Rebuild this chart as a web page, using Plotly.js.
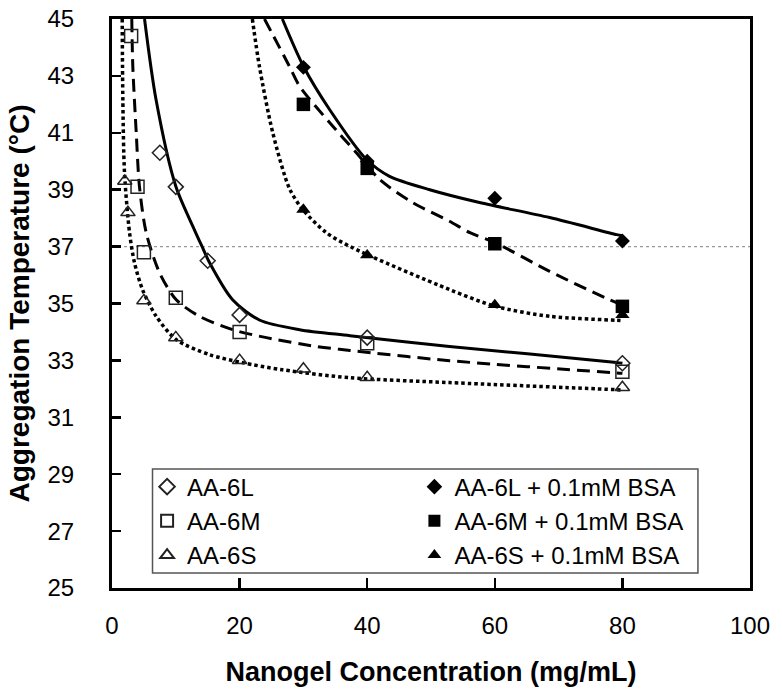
<!DOCTYPE html>
<html>
<head>
<meta charset="utf-8">
<script src="https://cdn.plot.ly/plotly-3.0.1.min.js"></script>
<style>html,body{margin:0;padding:0;background:#fff;}#chart{width:782px;height:695px;}</style>
</head>
<body>
<div id="chart"></div>
<script>
// ---- measured data points ----
const xL = [7.5, 10, 15, 20, 40, 80];
const yL = [40.3, 39.1, 36.5, 34.6, 33.8, 32.9];
const xM = [3, 4, 5, 10, 20, 40, 80];
const yM = [44.4, 39.1, 36.8, 35.2, 34.0, 33.6, 32.6];
const xS = [2, 2.5, 5, 10, 20, 30, 40, 80];
const yS = [39.3, 38.2, 35.1, 33.8, 33.0, 32.7, 32.4, 32.05];
const xLB = [30, 40, 60, 80];
const yLB = [43.3, 40.0, 38.7, 37.2];
const xMB = [30, 40, 60, 80];
const yMB = [42.0, 39.75, 37.1, 34.9];
const xSB = [30, 40, 60, 80];
const ySB = [38.3, 36.7, 34.95, 34.6];

// ---- trend curves ----
const fitLx = [5.1, 6.9, 10.0, 12.9, 14.2, 15.3, 18.9, 23.1, 29.4, 37.3, 52.9, 79.1, 80];
const fitLy = [45, 42.17, 39.12, 37.6, 36.96, 36.43, 35.13, 34.42, 34.08, 33.87, 33.49, 32.93, 32.9];
const fitMx = [3.1, 3.26, 3.8, 4.3, 5.36, 7.45, 10.07, 13.7, 18.9, 24.2, 32.0, 37.3, 52.9, 79.1, 80];
const fitMy = [45, 43.34, 41.0, 39.12, 37.49, 36.08, 35.13, 34.55, 34.08, 33.8, 33.49, 33.35, 32.99, 32.56, 32.55];
const fitSx = [1.6, 1.7, 1.96, 2.75, 3.53, 4.78, 6.93, 10.07, 15.3, 20.5, 26.7, 37.3, 52.9, 79.1, 80];
const fitSy = [45, 42.17, 39.6, 37.49, 36.43, 35.49, 34.55, 33.73, 33.2, 32.92, 32.67, 32.39, 32.22, 31.97, 31.96];
const fitLBx = [26.7, 30.0, 34.1, 39.9, 43.5, 49.8, 57.6, 68.6, 79.1, 80];
const fitLBy = [45, 43.34, 41.82, 40.06, 39.47, 39.0, 38.55, 38.02, 37.42, 37.38];
const fitMBx = [23.9, 27.8, 29.4, 34.1, 38.3, 42.0, 47.1, 52.9, 56.1, 60.1, 68.6, 78.0, 80];
const fitMBy = [45, 43.34, 42.64, 41.36, 40.3, 39.35, 38.55, 37.89, 37.49, 37.13, 36.13, 35.13, 34.95];
const fitSBx = [22.0, 23.1, 25.2, 27.8, 29.9, 33.6, 37.7, 52.9, 60.1, 68.6, 79.1, 80];
const fitSBy = [45, 43.34, 41.0, 39.05, 38.3, 37.49, 36.96, 35.49, 34.9, 34.55, 34.41, 34.4];

const referenceTemp = 37;
const names = ['AA-6L', 'AA-6M', 'AA-6S', 'AA-6L + 0.1mM BSA', 'AA-6M + 0.1mM BSA', 'AA-6S + 0.1mM BSA'];
const xTicks = [0, 20, 40, 60, 80, 100];
const yTicks = [25, 27, 29, 31, 33, 35, 37, 39, 41, 43, 45];

const FONT = 'Liberation Sans, Arial, sans-serif';

function curve(x, y, dash, w) {
  return {x: x, y: y, mode: 'lines', showlegend: false, hoverinfo: 'skip',
    line: {color: '#000', width: w, dash: dash, shape: 'spline', smoothing: 0.8}};
}
function pts(x, y, name, symbol, size, legend) {
  const open = symbol.indexOf('open') >= 0;
  return {x: x, y: y, name: name, mode: 'markers', legend: legend,
    marker: {symbol: symbol, size: size, color: open ? '#222' : '#000',
      line: {width: open ? 1.5 : 0, color: '#222'}}};
}

const traces = [
  curve(fitLx, fitLy, 'solid', 3),
  curve(fitMx, fitMy, '13px,7px', 3),
  curve(fitSx, fitSy, '3.5px,3px', 3.5),
  curve(fitLBx, fitLBy, 'solid', 3),
  curve(fitMBx, fitMBy, '13px,7px', 3),
  curve(fitSBx, fitSBy, '3.5px,3px', 3.5),
  pts(xL, yL, names[0], 'diamond-open', 11.5, 'legend'),
  pts(xM, yM, names[1], 'square-open', 13, 'legend'),
  pts(xS, yS, names[2], 'triangle-up-open', 12.5, 'legend'),
  pts(xLB, yLB, names[3], 'diamond', 11.5, 'legend2'),
  pts(xMB, yMB, names[4], 'square', 13.5, 'legend2'),
  pts(xSB, ySB, names[5], 'triangle-up', 12.5, 'legend2')
];

const legendCommon = {
  font: {family: FONT, size: 24, color: '#000'},
  bgcolor: 'rgba(0,0,0,0)', borderwidth: 0,
  yanchor: 'top', xanchor: 'left', itemsizing: 'constant',
  tracegroupgap: 0
};

const layout = {
  width: 782, height: 695,
  margin: {l: 112, r: 32, t: 19, b: 107},
  paper_bgcolor: '#fff', plot_bgcolor: '#fff',
  font: {family: FONT, size: 24, color: '#000'},
  showlegend: true,
  legend: Object.assign({x: 0.055, y: 0.217}, legendCommon),
  legend2: Object.assign({x: 0.474, y: 0.217}, legendCommon),
  xaxis: {
    range: [0, 100], tickvals: xTicks, ticktext: xTicks.map(String),
    ticks: 'inside', ticklen: 10, tickwidth: 2.5, tickcolor: '#000',
    showline: true, linewidth: 3, linecolor: '#000', mirror: true,
    showgrid: false, zeroline: false,
    tickfont: {family: FONT, size: 24, color: '#000'},
    ticklabelstandoff: 14,
    title: {text: 'Nanogel Concentration (mg/mL)', font: {family: FONT, size: 27, color: '#000', weight: 'bold'}, standoff: 25}
  },
  yaxis: {
    range: [25, 45], tickvals: yTicks, ticktext: yTicks.map(String),
    ticks: 'inside', ticklen: 9, tickwidth: 2.5, tickcolor: '#000',
    showline: true, linewidth: 3, linecolor: '#000', mirror: true,
    showgrid: false, zeroline: false,
    tickfont: {family: FONT, size: 24, color: '#000'},
    ticklabelstandoff: 30,
    title: {text: 'Aggregation Temperature (°C)', font: {family: FONT, size: 28, color: '#000', weight: 'bold'}, standoff: 10}
  },
  shapes: [
    {type: 'line', xref: 'paper', yref: 'y', x0: 0, x1: 1, y0: referenceTemp, y1: referenceTemp,
      line: {color: '#999', width: 1.2, dash: 'dot'}, layer: 'below'},
    {type: 'rect', xref: 'paper', yref: 'paper', x0: 0.0635, x1: 0.9184, y0: 0.0264, y1: 0.2093,
      line: {color: '#555', width: 1.5}, fillcolor: '#fff', layer: 'above'}
  ]
};

Plotly.newPlot('chart', traces, layout, {staticPlot: true, displayModeBar: false});
</script>
</body>
</html>
